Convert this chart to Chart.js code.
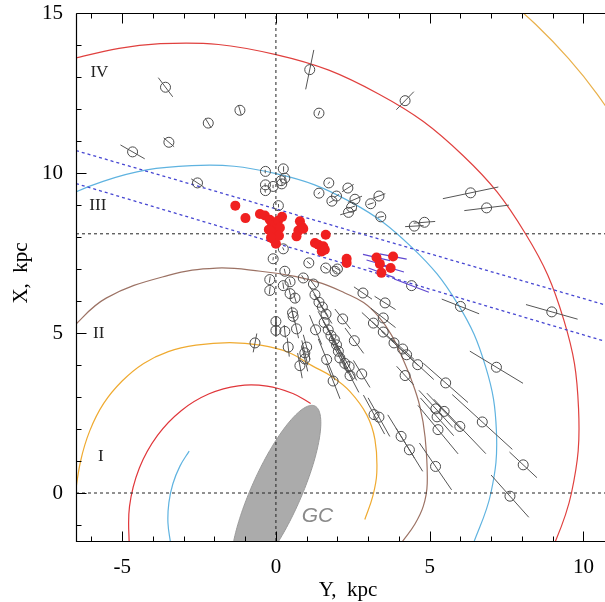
<!DOCTYPE html>
<html><head><meta charset="utf-8">
<script src="https://cdn.jsdelivr.net/npm/chart.js@4.4.1/dist/chart.umd.min.js"></script>
<style>html,body{margin:0;padding:0;background:#fff}#wrap{width:605px;height:602px}</style>
</head><body><div id="wrap"><canvas id="c" width="605" height="602"></canvas></div>
<script>
// ---- axes (horizontal = Y, kpc ; vertical = X, kpc) ----
const xTickLabels = [-5, 0, 5, 10];
const yTickLabels = [0, 5, 10, 15];
const xRange = [-6.5, 10.7];
const yRange = [-1.5, 15];
const xTitle = 'Y,  kpc';
const yTitle = 'X,  kpc';
const SUN_Y = 0, SUN_X = 8.1;

// ---- spiral arm segments (Y, X) ----
const armRedOuterY = [-7.71, -3.76, 0.00, 3.34, 6.09, 8.11, 9.36, 9.84, 9.61, 8.75];
const armRedOuterX = [13.35, 14.04, 13.70, 12.47, 10.54, 8.11, 5.41, 2.64, 0.00, -2.34];
const armOrangeOuterY = [7.29, 8.45, 9.51, 10.45, 11.27];
const armOrangeOuterX = [15.62, 14.64, 13.58, 12.46, 11.27];
const armBlueY = [-8.44, -5.62, -2.74, 0.00, 2.44, 4.43, 5.91, 6.82, 7.17, 6.99, 6.37];
const armBlueX = [8.44, 9.74, 10.23, 9.98, 9.09, 7.67, 5.91, 3.94, 1.92, 0.00, -1.71];
const armBrownY = [-6.7, -5.52, -3.5, -1.93, -0.5, 0.62, 1.5, 2.24, 2.85, 3.33, 3.75, 4.1, 4.4, 4.68, 4.85, 4.92, 4.79, 4.5, 4.14, 3.9];
const armBrownX = [5.1, 6.09, 6.8, 7.03, 6.93, 6.77, 6.55, 6.25, 5.95, 5.52, 4.95, 4.25, 3.55, 2.71, 1.75, 0.3, -0.42, -1.0, -1.48, -1.8];
const armOrangeY = [-6.55, -6.35, -6.05, -5.6, -5.0, -4.3, -3.5, -2.6, -1.5, -0.5, 0.4, 1.17, 1.85, 2.41, 2.95, 3.22, 3.28, 3.15, 2.89];
const armOrangeX = [-0.2, 1.0, 1.95, 2.8, 3.5, 4.05, 4.42, 4.62, 4.70, 4.62, 4.40, 3.98, 3.62, 3.17, 2.45, 1.67, 0.63, -0.1, -0.83];
const armRedInnerY = [-4.77, -4.76, -4.44, -3.85, -3.07, -2.17, -1.22, -0.29, 0.55, 1.13];
const armRedInnerX = [-1.74, -0.42, 0.78, 1.80, 2.58, 3.10, 3.35, 3.34, 3.11, 2.80];
const armBlueInnerY = [-3.42, -3.51, -3.48, -3.35, -3.12, -2.82];
const armBlueInnerX = [-1.60, -0.94, -0.30, 0.29, 0.84, 1.31];

// ---- dashed blue band (Y, X) ----
const bandUpperY = [-6.5, 10.7];
const bandUpperX = [10.70, 5.88];
const bandLowerY = [-6.5, 10.7];
const bandLowerX = [9.67, 4.74];

// ---- bar (GC) ----
const BAR_A = 3.0, BAR_B = 0.8, BAR_ANGLE = 25;

// ---- masers: open circles with distance errors ----
const openY = [-3.59,-2.20,-1.17,-3.48,-4.66,-2.55,1.10,1.40,4.20,
 -0.34,0.24,0.29,-0.34,-0.34,-0.09,0.19,0.17,0.08,
 1.72,1.40,1.97,1.82,2.34,2.57,2.46,2.36,3.35,3.08,3.41,4.50,4.83,6.33,6.85,
 0.24,-0.09,1.07,1.62,1.92,2.00,0.29,-0.20,0.46,0.89,1.22,-0.20,0.24,0.46,0.62,
 1.27,1.40,1.51,1.63,0.54,0.56,1.57,1.70,1.79,1.90,1.97,2.03,2.08,2.24,2.38,2.41,1.86,2.79,
 2.17,1.29,2.55,1.65,0.00,0.00,0.29,0.67,0.40,1.00,0.94,0.94,0.78,-0.68,
 2.83,3.55,3.17,3.49,3.49,3.84,4.12,4.25,4.61,4.20,5.52,5.20,5.47,5.24,5.27,5.98,6.71,
 4.07,4.34,5.19,8.04,7.61,7.17,6.00,8.97,3.19,3.35,4.41];
const openX = [12.68,11.56,11.96,10.96,10.66,9.69,13.23,11.87,12.26,
 10.05,10.13,9.84,9.63,9.45,9.58,9.66,9.76,8.98,
 9.69,9.37,9.28,9.12,9.53,9.18,8.93,8.77,9.28,9.04,8.63,8.34,8.46,9.38,8.91,
 7.63,7.32,7.19,7.03,6.93,7.00,6.93,6.67,6.60,6.72,6.53,6.33,6.48,6.23,6.09,
 6.20,5.96,5.81,5.59,5.63,5.52,5.33,5.10,4.92,4.79,4.63,4.43,4.22,4.05,3.95,3.67,3.50,3.72,
 5.44,5.10,4.76,4.17,5.36,5.08,5.05,5.13,4.56,4.56,4.38,4.19,3.98,4.69,
 6.25,5.94,5.31,5.47,5.03,4.69,4.50,4.32,4.01,3.67,3.44,2.63,2.55,2.38,1.98,2.08,2.22,
 1.77,1.35,0.83,0.88,-0.10,3.93,5.83,5.66,2.45,2.37,6.48];
const openErr = [0.38,0.18,0.15,0.22,0.45,0.24,0.63,0.08,0.40,
 0.05,0.08,0.08,0.05,0.05,0.05,0.05,0.05,0.05,
 0.05,0.05,0.10,0.10,0.22,0.25,0.12,0.28,0.22,0.10,0.10,0.30,0.35,0.92,0.73,
 0.05,0.05,0.08,0.10,0.10,0.10,0.08,0.10,0.10,0.10,0.15,0.12,0.10,0.15,0.15,
 0.30,0.30,0.35,0.35,0.20,0.20,0.40,0.45,0.50,0.50,0.50,0.50,0.55,0.55,0.50,0.60,0.60,0.50,
 0.40,0.50,0.50,0.70,0.15,0.15,0.20,0.30,0.30,0.40,0.40,0.40,0.40,0.30,
 0.35,0.40,0.50,0.50,0.50,0.55,0.50,0.50,0.70,0.40,0.95,0.80,0.80,0.80,1.00,1.20,1.30,
 0.80,0.80,0.90,0.60,0.90,1.00,0.65,0.87,0.70,0.70,0.00];

// ---- red filled points ----
const redY = [-1.32,-0.99,-0.52,-0.36,-0.20,-0.13,-0.03,-0.07,0.00,0.07,0.13,0.10,0.20,-0.23,-0.16,
 0.78,0.84,0.73,0.67,0.89,1.62,1.27,1.38,1.54,1.49,1.59,2.30,2.30,3.27,3.38,3.43,3.81,3.73];
const redX = [8.98,8.59,8.72,8.67,8.54,8.35,8.13,7.92,7.79,8.51,8.29,8.04,8.63,8.23,7.98,
 8.49,8.33,8.20,8.02,8.26,8.07,7.81,7.76,7.71,7.55,7.60,7.32,7.19,7.36,7.16,6.88,7.39,7.03];
const redErr = [0,0,0,0,0,0,0,0,0,0,0,0,0,0,0,
 0,0,0,0,0,0,0,0,0,0,0,0,0,0.45,0.45,0.45,0.45,0.45];
const purpleOpenErr = [0.6]; // error of the last open circle
// ---- labels ----
const armLabels = ['IV','III','II','I'];
const armLabelY = [-5.74,-5.79,-5.76,-5.69];
const armLabelX = [13.15,8.98,4.98,1.14];
const gcLabel = 'GC', gcLabelY = 1.35, gcLabelX = -0.73;

// ---------- helpers ----------
const zip = (ys, xs) => ys.map((v, i) => ({x: v, y: xs[i]}));
function losSegments(ys, xs, errs) {
  const out = [];
  for (let i = 0; i < ys.length; i++) {
    const e = errs[i]; if (!e) continue;
    const dy = ys[i] - SUN_Y, dx = xs[i] - SUN_X, d = Math.hypot(dy, dx);
    const uy = dy / d, ux = dx / d;
    out.push({x: ys[i] - uy * e, y: xs[i] - ux * e}, {x: ys[i] + uy * e, y: xs[i] + ux * e}, {x: null, y: null});
  }
  return out;
}
const nO = openY.length;
const purpleSeg = losSegments(openY.slice(nO - 1), openX.slice(nO - 1), purpleOpenErr)
  .concat(losSegments(redY, redX, redErr));

function arc(ys, xs, color, w) {
  return {type: 'line', data: zip(ys, xs), borderColor: color, borderWidth: w || 1.2, pointRadius: 0,
    tension: 0.4, fill: false, order: 6};
}
function dashed(ys, xs, color, dash, w, order) {
  return {type: 'line', data: zip(ys, xs), borderColor: color, borderWidth: w, borderDash: dash,
    pointRadius: 0, tension: 0, fill: false, order: order};
}

const datasets = [
  {type: 'scatter', data: zip(redY, redX), pointRadius: 5, pointBackgroundColor: '#f02020',
    pointBorderColor: '#f02020', pointBorderWidth: 0, showLine: false, order: 0},
  {type: 'line', data: purpleSeg, borderColor: '#6048d0', borderWidth: 1.2, pointRadius: 0, spanGaps: false, order: 1},
  {type: 'scatter', data: zip(openY, openX), pointRadius: 5, pointBackgroundColor: 'rgba(0,0,0,0)',
    pointBorderColor: '#4a4a4a', pointBorderWidth: 1, showLine: false, order: 2},
  {type: 'line', data: losSegments(openY, openX, openErr), borderColor: '#555', borderWidth: 1,
    pointRadius: 0, spanGaps: false, tension: 0, order: 3},
  dashed(bandUpperY, bandUpperX, '#4646d2', [3, 3], 1.3, 4),
  dashed(bandLowerY, bandLowerX, '#4646d2', [3, 3], 1.3, 4),
  dashed([0, 0], yRange, '#222', [3, 3], 1, 5),
  dashed(xRange, [0, 0], '#222', [3, 3], 1, 5),
  dashed(xRange, [SUN_X, SUN_X], '#222', [3, 3], 1, 5),
  arc(armRedOuterY, armRedOuterX, '#e0403e'),
  arc(armOrangeOuterY, armOrangeOuterX, '#e9b04a'),
  arc(armBlueY, armBlueX, '#5fb3e0'),
  arc(armBrownY, armBrownX, '#9c7264'),
  arc(armOrangeY, armOrangeX, '#efaa30'),
  arc(armRedInnerY, armRedInnerX, '#e0363a'),
  arc(armBlueInnerY, armBlueInnerX, '#5fb3e0'),
];

const framePlugin = {
  id: 'frame',
  beforeDatasetsDraw(chart) {
    const {ctx, chartArea: a, scales: {x, y}} = chart;
    ctx.save();
    ctx.beginPath(); ctx.rect(a.left, a.top, a.right - a.left, a.bottom - a.top); ctx.clip();
    const th = BAR_ANGLE * Math.PI / 180;
    ctx.beginPath();
    for (let k = 0; k <= 180; k++) {
      const t = k / 180 * 2 * Math.PI;
      const u = BAR_A * Math.cos(t), v = BAR_B * Math.sin(t);
      const Y = u * Math.sin(th) + v * Math.cos(th);
      const X = u * Math.cos(th) - v * Math.sin(th);
      const px = x.getPixelForValue(Y), py = y.getPixelForValue(X);
      if (k) ctx.lineTo(px, py); else ctx.moveTo(px, py);
    }
    ctx.closePath();
    ctx.fillStyle = '#ababab'; ctx.fill();
    ctx.strokeStyle = '#9a9a9a'; ctx.lineWidth = 1; ctx.stroke();
    ctx.restore();
  },
  afterDraw(chart) {
    const {ctx, chartArea: a, scales: {x, y}} = chart;
    ctx.save();
    ctx.fillStyle = '#222';
    ctx.font = '17px "Liberation Serif", serif';
    ctx.textAlign = 'center'; ctx.textBaseline = 'middle';
    armLabels.forEach((t, i) => ctx.fillText(t, x.getPixelForValue(armLabelY[i]), y.getPixelForValue(armLabelX[i])));
    ctx.fillStyle = '#8a8a8a';
    ctx.font = 'italic 21px "Liberation Sans", sans-serif';
    ctx.fillText(gcLabel, x.getPixelForValue(gcLabelY), y.getPixelForValue(gcLabelX));
    ctx.strokeStyle = '#000'; ctx.lineWidth = 1.2;
    const L = Math.round(a.left) + 0.5, B = Math.round(a.bottom) + 0.5, T = Math.round(a.top) + 0.5, R = a.right + 2;
    ctx.beginPath();
    ctx.moveTo(L, T); ctx.lineTo(L, B); ctx.lineTo(R, B);
    ctx.moveTo(L, T); ctx.lineTo(R, T);
    ctx.stroke();
    ctx.lineWidth = 1;
    ctx.beginPath();
    for (let v = Math.ceil(xRange[0]); v <= Math.floor(xRange[1]); v++) {
      const px = Math.round(x.getPixelForValue(v)) + 0.5;
      const len = xTickLabels.includes(v) ? 10 : 5;
      ctx.moveTo(px, B); ctx.lineTo(px, B - len);
      ctx.moveTo(px, T); ctx.lineTo(px, T + len);
    }
    for (let v = Math.ceil(yRange[0]); v <= Math.floor(yRange[1]); v++) {
      const py = Math.round(y.getPixelForValue(v)) + 0.5;
      const len = yTickLabels.includes(v) ? 10 : 5;
      ctx.moveTo(L, py); ctx.lineTo(L + len, py);
    }
    ctx.stroke();
    ctx.fillStyle = '#000';
    ctx.font = '21px "Liberation Serif", serif';
    ctx.textAlign = 'center'; ctx.textBaseline = 'middle';
    ctx.fillText(xTitle, 348, 590);
    ctx.translate(21, 273); ctx.rotate(-Math.PI / 2);
    ctx.fillText(yTitle, 0, 0);
    ctx.restore();
  }
};

new Chart(document.getElementById('c'), {
  type: 'scatter',
  data: {datasets},
  options: {
    responsive: false, animation: false, devicePixelRatio: 1,
    layout: {padding: {top: 13, right: 0, left: 0, bottom: 0}, autoPadding: false},
    plugins: {legend: {display: false}, tooltip: {enabled: false}},
    scales: {
      x: {type: 'linear', min: xRange[0], max: xRange[1],
        grid: {display: false, drawTicks: false}, border: {display: false},
        afterBuildTicks: s => { s.ticks = xTickLabels.map(v => ({value: v})); },
        afterFit: s => { s.height = 61; s.paddingLeft = 0; s.paddingRight = 0; },
        ticks: {padding: 14, color: '#000', maxRotation: 0, autoSkip: false,
          font: {family: '"Liberation Serif", serif', size: 21}}},
      y: {type: 'linear', min: yRange[0], max: yRange[1],
        grid: {display: false, drawTicks: false}, border: {display: false},
        afterBuildTicks: s => { s.ticks = yTickLabels.map(v => ({value: v})); },
        afterFit: s => { s.width = 76; s.paddingTop = 0; s.paddingBottom = 0; },
        ticks: {padding: 13, color: '#000', autoSkip: false,
          font: {family: '"Liberation Serif", serif', size: 21}}}
    }
  },
  plugins: [framePlugin]
});
</script></body></html>
